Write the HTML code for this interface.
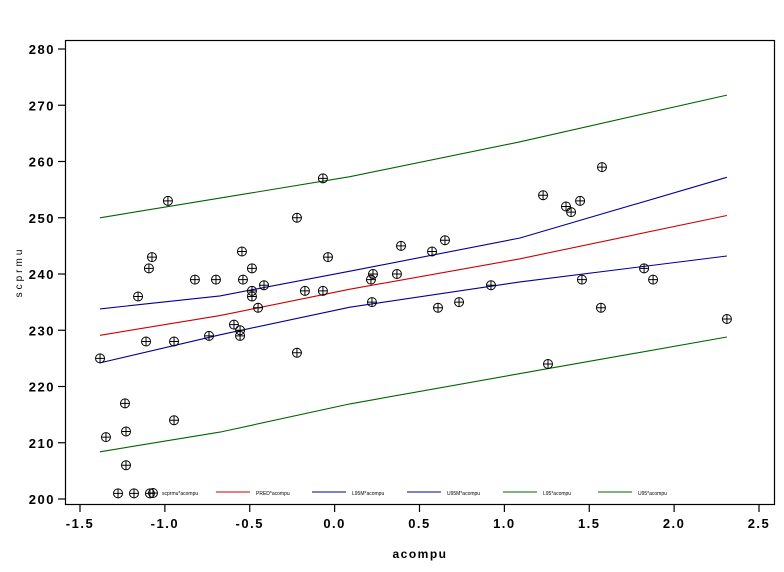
<!DOCTYPE html>
<html><head><meta charset="utf-8">
<style>
html,body{margin:0;padding:0;background:#fff;width:784px;height:572px;overflow:hidden}
svg{display:block}
.tick{font-family:"Liberation Sans",sans-serif;font-weight:bold;font-size:13px;letter-spacing:1.5px;fill:#000}
.leg{font-family:"Liberation Sans",sans-serif;font-size:5px;fill:#000}
</style></head>
<body>
<svg id="chart" width="784" height="572" viewBox="0 0 784 572">
<rect x="0" y="0" width="784" height="572" fill="#fff"/>
<rect x="65.5" y="40.5" width="709" height="464" fill="none" stroke="#000" stroke-width="1.2"/>
<g id="axes"></g>
<g id="lines"></g>
<g id="points"></g>
<g id="legend"></g>
<text x="420" y="558" text-anchor="middle" class="tick" style="font-size:12px">acompu</text>
<text transform="translate(22,272) rotate(-90)" text-anchor="middle" style="font-family:'Liberation Sans',sans-serif;font-size:10px;letter-spacing:3px">scprmu</text>
</svg>
<script>
const xTicks = [-1.5,-1.0,-0.5,0.0,0.5,1.0,1.5,2.0,2.5];
const xTickLabels = ["-1.5","-1.0","-0.5","0.0","0.5","1.0","1.5","2.0","2.5"];
const yTicks = [200,210,220,230,240,250,260,270,280];
const ptX = [-1.382,-1.347,-1.276,-1.235,-1.229,-1.229,-1.182,-1.158,-1.111,-1.088,-1.094,-1.076,-0.982,-0.946,-0.946,-0.823,-0.740,-0.699,-0.593,-0.557,-0.557,-0.546,-0.540,-0.487,-0.487,-0.487,-0.451,-0.416,-0.222,-0.222,-0.175,-0.069,-0.069,-0.039,0.214,0.220,0.226,0.367,0.391,0.574,0.609,0.650,0.733,0.921,1.257,1.228,1.363,1.393,1.446,1.457,1.569,1.575,1.823,1.876,2.311];
const ptY = [225,211,201,217,212,206,201,236,228,201,241,243,253,228,214,239,229,239,231,229,230,244,239,236,241,237,234,238,226,250,237,237,257,243,239,235,240,240,245,244,234,246,235,238,224,254,252,251,253,239,234,259,241,239,232];
const fitX = [-1.382,-0.675,0.09,1.092,2.311];
const pred = [229.1,232.6,237.3,242.7,250.4];
const u95m = [233.8,236.1,240.5,246.4,257.2];
const l95m = [224.2,229.2,234.1,238.6,243.2];
const u95 = [250.0,253.5,257.3,263.5,271.8];
const l95 = [208.4,211.9,216.9,222.3,228.8];

const NS = "http://www.w3.org/2000/svg";
const sx = v => 80 + (v + 1.5) * 169.75;
const sy = v => 499 - (v - 200) * 5.625;
function mk(tag, attrs, parent){const e=document.createElementNS(NS,tag);for(const k in attrs)e.setAttribute(k,attrs[k]);parent.appendChild(e);return e;}
const axes = document.getElementById('axes');
xTicks.forEach((t,i)=>{
  const l = mk('line',{x1:sx(t),x2:sx(t),y1:505,y2:512,stroke:'#000','stroke-width':1.2},axes);
  
  
  const tx = mk('text',{x:sx(t),y:528,'text-anchor':'middle',class:'tick'},axes);
  tx.textContent = xTickLabels[i];
  
  
});
yTicks.forEach(t=>{
  const l = mk('line',{x1:58,x2:65,y1:sy(t),y2:sy(t),stroke:'#000','stroke-width':1.2},axes);
  
  
  const tx = mk('text',{x:55,y:sy(t)+5,'text-anchor':'end',class:'tick'},axes);
  tx.textContent = String(t);
  
  
});
const lines = document.getElementById('lines');
function drawLine(vals,color,name){
  const pts = fitX.map((x,i)=>sx(x).toFixed(1)+','+sy(vals[i]).toFixed(1)).join(' ');
  const p = mk('polyline',{points:pts,fill:'none',stroke:color,'stroke-width':1.1},lines);
  
  
}
drawLine(u95,'#006400','upper-prediction-limit');
drawLine(l95,'#006400','lower-prediction-limit');
drawLine(u95m,'#000090','upper-mean-confidence-limit');
drawLine(l95m,'#000090','lower-mean-confidence-limit');
drawLine(pred,'#cc0000','predicted-line');
const pg = document.getElementById('points');
function marker(cx,cy,parent){
  const g = mk('g',{},parent);
  mk('circle',{cx:cx,cy:cy,r:4.5,fill:'none',stroke:'#000','stroke-width':1},g);
  mk('line',{x1:cx-4.5,x2:cx+4.5,y1:cy,y2:cy,stroke:'#000','stroke-width':1},g);
  mk('line',{x1:cx,x2:cx,y1:cy-4.5,y2:cy+4.5,stroke:'#000','stroke-width':1},g);
  return g;
}
ptX.forEach((x,i)=>{
  const g = marker(sx(x),sy(ptY[i]),pg);
  
  
});
const lg = document.getElementById('legend');
const sym = marker(153,493,lg);


const t0 = mk('text',{x:162,y:495,class:'leg'},lg);
t0.textContent='scprmu*acompu';


const legItems = [[216,'#cc0000','PRED*acompu'],[312,'#000090','L95M*acompu'],[407,'#000090','U95M*acompu'],[503,'#006400','L95*acompu'],[598,'#006400','U95*acompu']];
legItems.forEach(it=>{
  const l = mk('line',{x1:it[0],x2:it[0]+34,y1:492,y2:492,stroke:it[1],'stroke-width':1.1},lg);
  
  
  const t = mk('text',{x:it[0]+40,y:495,class:'leg'},lg);
  t.textContent = it[2];
  
  
});
</script>
</body></html>
